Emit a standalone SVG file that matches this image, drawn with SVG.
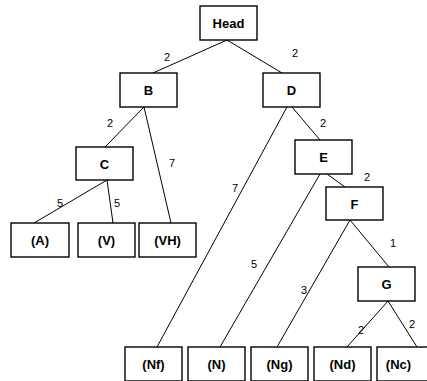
<svg xmlns="http://www.w3.org/2000/svg" width="427" height="381" viewBox="0 0 427 381">
<style>
.n rect{fill:#fff;stroke:#000;stroke-width:1.4}
.n text{font-family:"Liberation Sans",Arial,sans-serif;font-weight:bold;font-size:13px;text-anchor:middle;fill:#000}
.e line{stroke:#000;stroke-width:1}
.l{font-family:"Liberation Sans",Arial,sans-serif;font-size:11px;fill:#000;text-anchor:middle}
</style>
<rect width="427" height="381" fill="#fff"/>
<g id="connectors" class="e">
<line x1="227" y1="40" x2="153" y2="73"/>
<line x1="227" y1="40" x2="282" y2="73"/>
<line x1="144" y1="107" x2="105" y2="147"/>
<line x1="144" y1="107" x2="171" y2="223"/>
<line x1="287" y1="107" x2="157" y2="347"/>
<line x1="292" y1="107" x2="320" y2="140"/>
<line x1="320" y1="174" x2="220" y2="347"/>
<line x1="327" y1="174" x2="345" y2="187"/>
<line x1="107" y1="180" x2="34" y2="223"/>
<line x1="107" y1="180" x2="113" y2="223"/>
<line x1="350" y1="220" x2="277" y2="347"/>
<line x1="350" y1="220" x2="389" y2="267"/>
<line x1="388" y1="301" x2="347" y2="347"/>
<line x1="388" y1="301" x2="417" y2="347"/>
<text class="l" x="167" y="61">2</text>
<text class="l" x="295" y="57">2</text>
<text class="l" x="110" y="127">2</text>
<text class="l" x="172" y="167">7</text>
<text class="l" x="235" y="192">7</text>
<text class="l" x="323" y="127">2</text>
<text class="l" x="254" y="268">5</text>
<text class="l" x="367" y="181">2</text>
<text class="l" x="60" y="207">5</text>
<text class="l" x="117" y="207">5</text>
<text class="l" x="304" y="294">3</text>
<text class="l" x="393" y="247">1</text>
<text class="l" x="361" y="334">2</text>
<text class="l" x="412" y="328">2</text>
</g>
<g id="Head" class="n"><rect x="200" y="6" width="57" height="34"/><text x="228.5" y="28">Head</text></g>
<g id="B" class="n"><rect x="120" y="73" width="57" height="34"/><text x="148.5" y="95">B</text></g>
<g id="D" class="n"><rect x="263" y="73" width="57" height="34"/><text x="291.5" y="95">D</text></g>
<g id="C" class="n"><rect x="76" y="147" width="57" height="33"/><text x="104.5" y="168.5">C</text></g>
<g id="E" class="n"><rect x="295" y="140" width="57" height="34"/><text x="323.5" y="162">E</text></g>
<g id="F" class="n"><rect x="326" y="187" width="57" height="33"/><text x="354.5" y="208.5">F</text></g>
<g id="G" class="n"><rect x="358" y="267" width="57" height="34"/><text x="386.5" y="289">G</text></g>
<g id="A" class="n"><rect x="11" y="223" width="58" height="34"/><text x="40" y="245">(A)</text></g>
<g id="V" class="n"><rect x="78" y="223" width="57" height="34"/><text x="106.5" y="245">(V)</text></g>
<g id="VH" class="n"><rect x="139" y="223" width="57" height="34"/><text x="167.5" y="245">(VH)</text></g>
<g id="Nf" class="n"><rect x="125" y="347" width="57" height="34"/><text x="153.5" y="369">(Nf)</text></g>
<g id="N" class="n"><rect x="188" y="347" width="57" height="34"/><text x="216.5" y="369">(N)</text></g>
<g id="Ng" class="n"><rect x="251" y="347" width="57" height="34"/><text x="279.5" y="369">(Ng)</text></g>
<g id="Nd" class="n"><rect x="314" y="347" width="57" height="34"/><text x="342.5" y="369">(Nd)</text></g>
<g id="Nc" class="n"><rect x="377" y="347" width="57" height="34"/><text x="398.5" y="369">(Nc)</text></g>
</svg>
